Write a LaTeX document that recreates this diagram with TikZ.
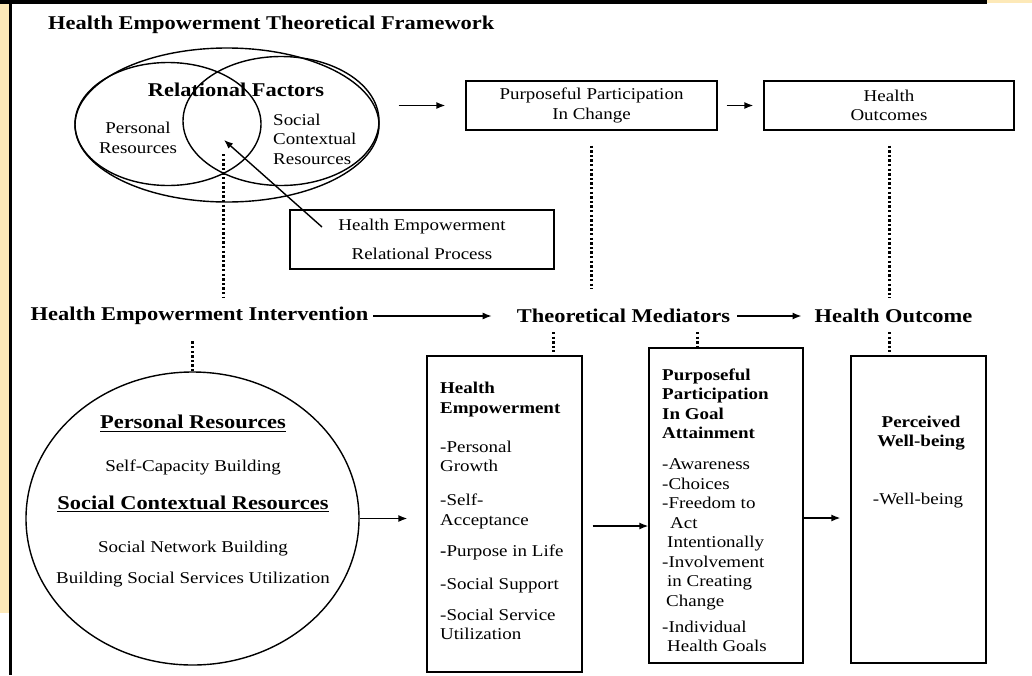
\documentclass[tikz,border=0pt]{standalone}
\usepackage{fontspec}
\setmainfont{Liberation Serif}[FakeStretch=1.15]
\usetikzlibrary{arrows.meta,shapes.geometric}
\definecolor{strip}{RGB}{253,233,184}
\newcommand\myul[1]{\setbox0\hbox{#1}\rlap{\rule[-3.2pt]{\wd0}{1.1pt}}\box0}
\begin{document}
\begin{tikzpicture}[x=1pt,y=-1pt,
  reg/.style={font=\fontsize{16.5}{19.5}\selectfont, inner sep=0pt},
  regb/.style={font=\fontsize{16.5}{19.5}\selectfont\bfseries, inner sep=0pt},
  head/.style={font=\fontsize{19.5}{22}\selectfont\bfseries, inner sep=0pt},
  boxed/.style={draw, line width=1.3pt, inner sep=0pt},
  oval/.style={draw, ellipse, line width=1.4pt, inner sep=0pt},
  arr/.style={-{Latex[length=9pt,width=7pt]}, line width=1.4pt},
  dots/.style={line width=3pt, dash pattern=on 2.4pt off 2.2pt},
]
\useasboundingbox (0,0) rectangle (1032,675);
\fill[white] (0,0) rectangle (1032,675);
\fill[strip] (0,0) rectangle (9,613);
\fill[black] (9,0) rectangle (12,675);
\fill[black] (0,0) rectangle (987,3.5);
\fill[strip] (987,0) rectangle (1032,3);

% title
\node[head, anchor=west] (title) at (48,25) {Health Empowerment Theoretical Framework};

% Venn
\node[oval, minimum width=304pt, minimum height=154pt] (rel) at (227,125) {};
\node[oval, minimum width=186pt, minimum height=123pt] (pres) at (168,124) {};
\node[oval, minimum width=196pt, minimum height=129pt] (sres) at (281,121) {};
\node[head] (relf) at (236,90) {Relational Factors};
\node[reg, align=center] (prt) at (138,138) {Personal\\Resources};
\node[reg, align=left, anchor=west] (srt) at (273,139) {Social\\Contextual\\Resources};

% top boxes
\node[boxed, reg, align=center, minimum width=251pt, minimum height=49pt] (ppc) at (591.5,105.5) {Purposeful Participation\\In Change};
\node[boxed, reg, align=center, minimum width=250pt, minimum height=49pt] (ho) at (889,105.5) {Health\\Outcomes};
\node[boxed, reg, align=center, minimum width=264pt, minimum height=59pt] (herp) at (422,239.5) {Health Empowerment\\[9.5pt]Relational Process};

\draw[arr, shorten <=19pt, shorten >=20pt] (rel.east |- ppc.west) -- (ppc.west);
\draw[arr, shorten <=9pt, shorten >=10pt] (ppc) -- (ho);
\coordinate (hs) at (322,227);
\coordinate (ht) at (224,140);
\draw[arr] (hs) -- (ht);

% upper dotted lines
\coordinate (u1a) at (223,154);
\coordinate (u1b) at (223,297);
\draw[dots] (u1a) -- (u1b);
\draw[dots] ([yshift=-15pt]ppc.south) -- ++(0,143);
\draw[dots] ([yshift=-15pt]ho.south) -- ++(0,152);

% row labels
\node[head] (hei) at (199.5,316) {Health Empowerment Intervention};
\node[head] (tm) at (623.5,316) {Theoretical Mediators};
\node[head] (hout) at (893.5,316) {Health Outcome};
\draw[arr, shorten <=5pt, shorten >=25pt] (hei.east) -- (tm.west);
\draw[arr, shorten <=7pt, shorten >=13pt] (tm.east) -- (hout.west);

% intervention circle
\node[oval, minimum width=333pt, minimum height=293pt] (int) at (192.5,518.5) {};
\node[head, anchor=base] (c1) at (193,428.5) {\myul{Personal Resources}};
\node[reg, anchor=base] (c2) at (193,471) {Self-Capacity Building};
\node[head, anchor=base] (c3) at (193,509) {\myul{Social Contextual Resources}};
\node[reg, anchor=base] (c4) at (193,552) {Social Network Building};
\node[reg, anchor=base] (c5) at (193,583) {Building Social Services Utilization};
\draw[dots] (int.north) -- ++(0,-32);

% mediator boxes
\node[boxed, minimum width=155pt, minimum height=316pt] (b1) at (504.5,514) {};
\node[boxed, minimum width=154pt, minimum height=315pt] (b2) at (726,505.5) {};
\node[boxed, minimum width=135pt, minimum height=307pt] (b3) at (918.5,509.5) {};

\node[reg, align=left, anchor=north west] (b1t) at (440,382.3) {\textbf{Health}\\\textbf{Empowerment}\\[19.5pt]-Personal\\Growth\\[14.5pt]-Self-\\Acceptance\\[11.5pt]\textbf{-}Purpose in Life\\[13.5pt]-Social Support\\[11.5pt]-Social Service\\Utilization};

\node[reg, align=left, anchor=north west] (b2t) at (662,368.3) {\textbf{Purposeful}\\\textbf{Participation}\\\textbf{In Goal}\\\textbf{Attainment}\\[11.5pt]-Awareness\\-Choices\\-Freedom to\\\hspace*{8pt}Act\\\hspace*{5pt}Intentionally\\-Involvement\\\hspace*{5pt}in Creating\\\hspace*{4pt}Change\\[6.5pt]-Individual\\\hspace*{5pt}Health Goals};

\node[regb, align=center] (b3t) at (921,433) {Perceived\\Well-being};
\node[reg] (b3w) at (918,501) {-Well-being};

\draw[arr, shorten >=19pt] (int.east) -- (int.east -| b1.west);
\coordinate (a2s) at ([yshift=-12pt]b1.east);
\draw[arr, shorten <=10pt] (a2s) -- (a2s -| b2.west);
\coordinate (a3s) at ([yshift=-12.5pt]b2.east);
\draw[arr, shorten >=10pt] (a3s) -- (a3s -| b3.west);

% lower dotted lines
\coordinate (m1a) at (553,332);
\coordinate (m1b) at (553,352);
\coordinate (m2a) at (697,332);
\coordinate (m2b) at (697,348);
\coordinate (m3a) at (889,332);
\coordinate (m3b) at (889,352);
\draw[dots] (m1a) -- (m1b);
\draw[dots] (m2a) -- (m2b);
\draw[dots] (m3a) -- (m3b);
\end{tikzpicture}
\end{document}
